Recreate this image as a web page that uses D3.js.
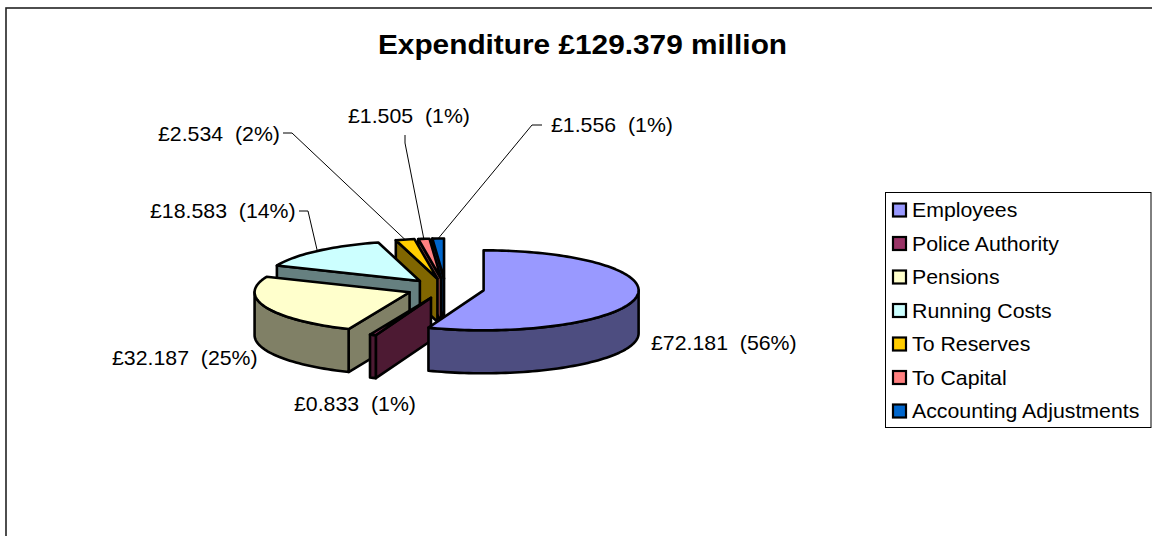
<!DOCTYPE html>
<html>
<head>
<meta charset="utf-8">
<style>
  html, body { margin: 0; padding: 0; background: #fff; overflow: hidden; }
  text { font-family: "Liberation Sans", Arial, sans-serif; fill: #000; white-space: pre; }
</style>
<script src="https://cdn.jsdelivr.net/npm/d3@7"></script>
</head>
<body>
<div id="chart"></div>
<script>
// the data
var categories = ["Employees", "Police Authority", "Pensions", "Running Costs", "To Reserves", "To Capital", "Accounting Adjustments"];
var values = [72.181, 0.833, 32.187, 18.583, 2.534, 1.505, 1.556];
var colors = ["#9999FF", "#993366", "#FFFFCC", "#CCFFFF", "#FFCC00", "#FF8080", "#0066CC"];
var titleText = "Expenditure £129.379 million";

// where each data label sits: text left edge, baseline, optional leader elbow
var labelX = [651, 294, 112, 150, 158, 348, 551];
var labelY = [350, 411, 365, 218, 141, 123, 132];
var leaderFrom = [null, null, null, [299, 211], [283, 133], [405, 135], [542, 125]];
var leaderElbow = [null, null, null, [308, 211], [292, 133], [405, 143], [532, 125]];

// set the dimensions
var width = 1152, height = 536;
var cx = 445.5, cy = 288.5, rx = 155, ry = 40, depth = 43, explode = 0.25;
var stretch = 1.065; // the picture is a little wider than it is tall

var svg = d3.select("#chart")
  .append("svg")
    .attr("width", width)
    .attr("height", height);

// frame (runs off the right and bottom of the picture)
svg.append("rect")
  .attr("x", 6).attr("y", 8)
  .attr("width", width + 20).attr("height", height + 20)
  .attr("fill", "#fff")
  .attr("stroke", "#222")
  .attr("stroke-width", 1.6);

function addText(sel, x, y, str, size, weight, anchor) {
  return sel.append("text")
    .attr("transform", "translate(" + x + "," + y + ") scale(" + stretch + ",1)")
    .attr("font-size", size)
    .attr("font-weight", weight || "normal")
    .attr("text-anchor", anchor || "start")
    .text(str);
}

// title
addText(svg, 582.5, 54, titleText, 28, "bold", "middle");

// pie angles, clockwise from 12 o'clock
var arcs = d3.pie().sort(null)(values);
var total = d3.sum(values);

// the exploded centre of a slice
function apex(a) {
  var mid = (a.startAngle + a.endAngle) / 2;
  return [cx + explode * rx * Math.sin(mid), cy - explode * ry * Math.cos(mid)];
}
// a point on the rim of a slice, dz lower than the top face
function rim(c, ang, dz) {
  return [c[0] + rx * Math.sin(ang), c[1] - ry * Math.cos(ang) + (dz || 0)];
}
function rimPoints(c, a0, a1, dz) {
  var n = Math.max(2, Math.ceil((a1 - a0) / 0.03));
  return d3.range(n + 1).map(function(i) { return rim(c, a0 + (a1 - a0) * i / n, dz); });
}

var line = d3.line();
var g = svg.append("g")
  .attr("stroke", "#000")
  .attr("stroke-width", 2.6)
  .attr("stroke-linejoin", "round");

function face(pts, fill) {
  g.append("path").attr("d", line(pts) + "Z").attr("fill", fill);
}

// paint from the back slice to the front one
d3.range(arcs.length - 1, -1, -1).forEach(function(i) {
  var a = arcs[i], c = apex(a);
  var wall = d3.interpolateRgb(colors[i], "#000")(0.5);
  var low = [c[0], c[1] + depth];

  // cut edge on the start side
  if (Math.sin(a.startAngle) < -1e-6) {
    face([c, rim(c, a.startAngle), rim(c, a.startAngle, depth), low], wall);
  }
  // cut edge on the end side
  if (Math.sin(a.endAngle) > 1e-6) {
    face([c, rim(c, a.endAngle), rim(c, a.endAngle, depth), low], wall);
  }
  // outer wall, only the front half of the ellipse shows
  var w0 = Math.max(a.startAngle, Math.PI / 2), w1 = Math.min(a.endAngle, Math.PI * 1.5);
  if (w1 > w0) {
    face(rimPoints(c, w0, w1, 0).concat(rimPoints(c, w0, w1, depth).reverse()), wall);
  }
  // top
  face([c].concat(rimPoints(c, a.startAngle, a.endAngle, 0)), colors[i]);
});

// data labels
var pct = d3.format(".0%");
arcs.forEach(function(a, i) {
  addText(svg, labelX[i], labelY[i], "£" + values[i].toFixed(3) + "  (" + pct(values[i] / total) + ")", 20);
  if (leaderFrom[i]) {
    var mid = (a.startAngle + a.endAngle) / 2;
    svg.append("path")
      .attr("d", line([leaderFrom[i], leaderElbow[i], rim(apex(a), mid)]))
      .attr("fill", "none")
      .attr("stroke", "#000")
      .attr("stroke-width", 1);
  }
});

// legend
var legend = svg.append("g");
legend.append("rect")
  .attr("x", 885.5).attr("y", 192.5)
  .attr("width", 265.5).attr("height", 235)
  .attr("fill", "#fff")
  .attr("stroke", "#000")
  .attr("stroke-width", 1);

var rowY = d3.scalePoint().domain(categories).range([210, 411]);
categories.forEach(function(name, i) {
  legend.append("rect")
    .attr("x", 893).attr("y", rowY(name) - 6.5)
    .attr("width", 13).attr("height", 13)
    .attr("fill", colors[i])
    .attr("stroke", "#000")
    .attr("stroke-width", 2.2);
  addText(legend, 912, rowY(name) + 7, name, 20);
});
</script>
</body>
</html>
